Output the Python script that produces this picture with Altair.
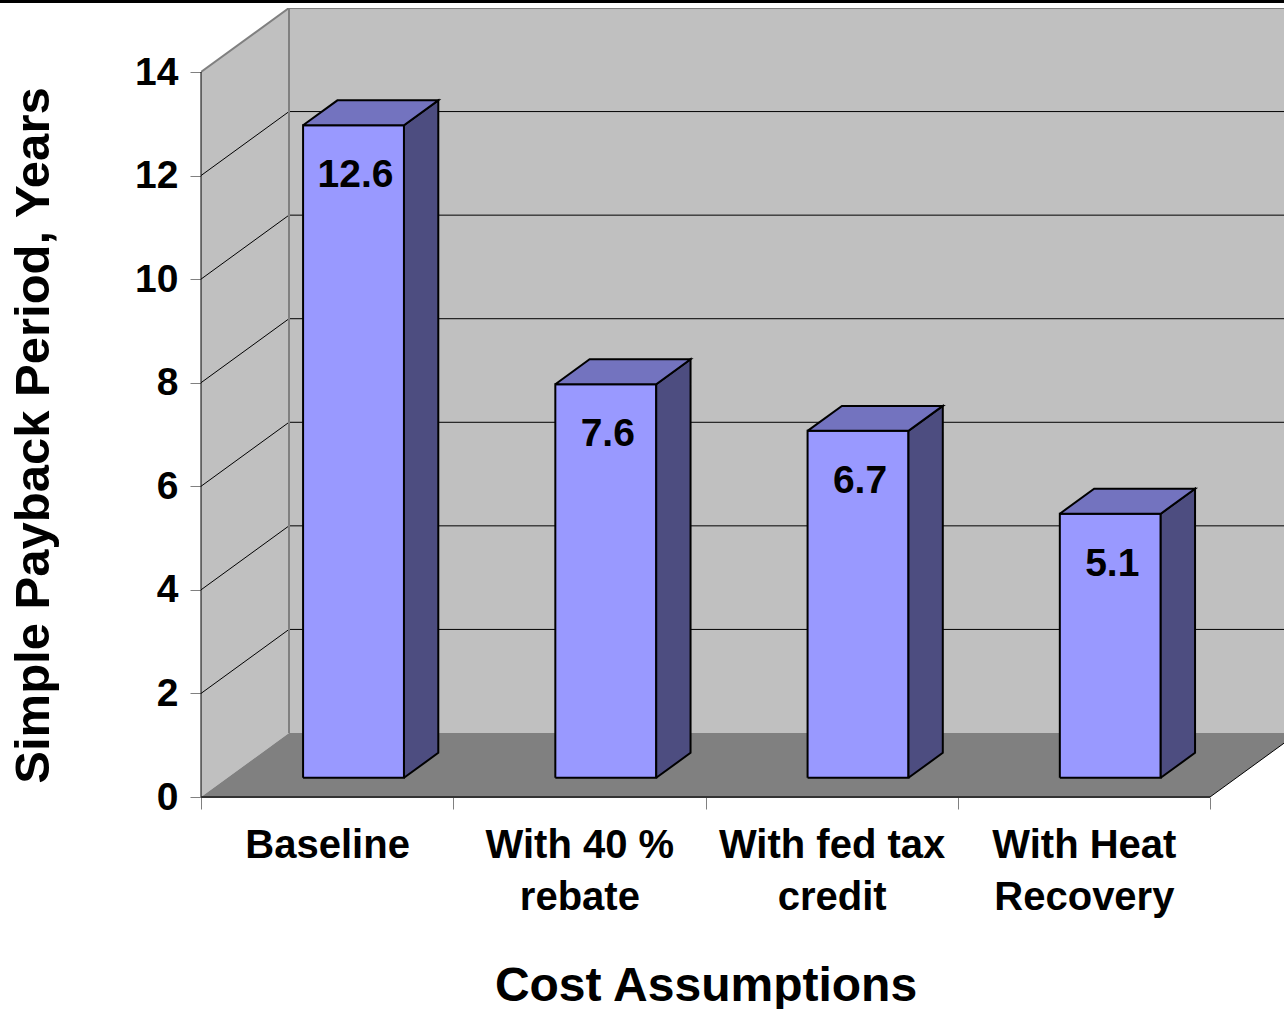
import altair as alt
import pandas as pd

# ---------------- data ----------------
categories = ["Baseline", "With 40 % rebate", "With fed tax credit", "With Heat Recovery"]
category_lines = [["Baseline"], ["With 40 %", "rebate"], ["With fed tax", "credit"], ["With Heat", "Recovery"]]
values = [12.6, 7.6, 6.7, 5.1]
y_ticks = [0, 2, 4, 6, 8, 10, 12, 14]

# ---------------- geometry (styles / layout) ----------------
FONT = "Liberation Sans"
PX_U = 252.25            # px per category unit
PX_V = 725 / 14          # px per year
W, H = 1083, 789         # plot area
U_MAX = W / PX_U
V_MAX = H / PX_V
DX = 88 / PX_U           # depth offset (category units) at full depth
DY = 64 / PX_V           # depth offset (years) at full depth
Z0, Z1 = 0.30, 0.69      # bar depth range
BL, BR = 0.30, 0.70      # bar left/right inside band
N = len(categories)
V_TOP = y_ticks[-1]


def pt(u, v, z):
    return u + z * DX, v + z * DY


def rows_from(polys, close=True):
    rows = []
    for pid, verts in enumerate(polys):
        vs = list(verts) + ([verts[0]] if close else [])
        for k, (u, v, z) in enumerate(vs):
            x, y = pt(u, v, z)
            rows.append({"pid": pid, "k": k, "u": x, "v": y})
    return pd.DataFrame(rows)


xs = alt.Scale(domain=[0, U_MAX], nice=False, zero=False)
ys = alt.Scale(domain=[0, V_MAX], nice=False, zero=False)

label_expr = "".join(
    "datum.value == %s ? [%s] : " % (i + 0.5, ",".join("'%s'" % s for s in lines))
    for i, lines in enumerate(category_lines)
) + "''"

x_axis = alt.Axis(
    values=[i * 0.5 for i in range(2 * N + 1)],
    tickSize=12, tickColor="#808080", tickWidth=1,
    tickOpacity={"condition": {"test": "datum.value % 1 != 0", "value": 0}, "value": 1},
    labelExpr=label_expr, labelFont=FONT, labelFontSize=40, labelFontWeight="bold",
    labelColor="black", labelPadding=16, labelLineHeight=52, labelOverlap=False,
    labelFlush=False, labelBound=False, labelLimit=1000, domain=False, grid=False,
    title="Cost Assumptions", titleFont=FONT, titleFontSize=48, titleFontWeight="bold",
    titleColor="black", titleX=504.5, titleY=203, titleAlign="center",
    titleBaseline="alphabetic", titleAnchor="start", titleLimit=2000,
)
y_axis = alt.Axis(
    values=y_ticks, tickSize=11, tickColor="#808080", tickWidth=1,
    labelFont=FONT, labelFontSize=39, labelFontWeight="bold", labelColor="black",
    labelPadding=12, domain=False, grid=False,
    title="Simple Payback Period, Years", titleFont=FONT, titleFontSize=49,
    titleFontWeight="bold", titleColor="black", titleAngle=270, titleX=-153,
    titleY=427, titleAlign="center", titleBaseline="alphabetic", titleAnchor="start",
    titleLimit=2000,
)

XE = alt.X("u:Q", scale=xs, axis=x_axis)
YE = alt.Y("v:Q", scale=ys, axis=y_axis)


def enc(chart):
    return chart.encode(x=XE, y=YE, detail="pid:N", order=alt.Order("k:Q"))


def poly(polys, fill, stroke="black", sw=0.0, clip=False, close=True):
    kw = dict(strokeJoin="miter", clip=clip, interpolate="linear")
    if fill is not None:
        kw["fill"] = fill
    if sw > 0:
        kw.update(stroke=stroke, strokeWidth=sw)
    else:
        kw.update(strokeOpacity=0)
    return enc(alt.Chart(rows_from(polys, close)).mark_line(**kw))


# walls and floor
back_wall = poly([[(0, 0, 1), (N, 0, 1), (N, V_TOP, 1), (0, V_TOP, 1)]], "#C0C0C0", clip=True)
left_wall = poly([[(0, 0, 0), (0, 0, 1), (0, V_TOP, 1), (0, V_TOP, 0)]], "#C0C0C0")
floor = poly([[(0, 0, 0), (N, 0, 0), (N, 0, 1), (0, 0, 1)]], "#808080", clip=True)

grid = poly([[(0, v, 0), (0, v, 1), (N, v, 1)] for v in y_ticks[1:-1]],
            None, "black", 1, clip=True, close=False)
edges = poly([[(0, V_TOP, 0), (0, V_TOP, 1), (N, V_TOP, 1)], [(0, 0, 1), (0, V_TOP, 1)]],
             None, "#808080", 2, clip=True, close=False)

# bars
fronts, sides, tops = [], [], []
for i, val in enumerate(values):
    l, r = i + BL, i + BR
    fronts.append([(l, 0, Z0), (r, 0, Z0), (r, val, Z0), (l, val, Z0)])
    sides.append([(r, 0, Z0), (r, 0, Z1), (r, val, Z1), (r, val, Z0)])
    tops.append([(l, val, Z0), (r, val, Z0), (r, val, Z1), (l, val, Z1)])
bar_front = poly(fronts, "#9999FF", "black", 2)
bar_side = poly(sides, "#4D4D80", "black", 2)
bar_top = poly(tops, "#7373BF", "black", 2)

# value labels
lab_df = pd.DataFrame({
    "u": [pt(i + 0.5, val, Z0)[0] for i, val in enumerate(values)],
    "v": [pt(i + 0.5, val, Z0)[1] for i, val in enumerate(values)],
    "t": ["%.1f" % val for val in values],
})
labels = alt.Chart(lab_df).mark_text(
    font=FONT, fontSize=39, fontWeight="bold", color="black",
    baseline="alphabetic", align="center", dy=62, dx=2,
).encode(x=XE, y=YE, text="t:N")

# front axis lines
y_line = poly([[(0, 0, 0), (0, V_TOP, 0)]], None, "black", 1, close=False)
x_line = poly([[(0, 0, 0), (N, 0, 0)]], None, "#333333", 2, close=False)
right_edge = poly([[(N, 0, 0), (N, 0, 1)]], None, "black", 1, clip=True, close=False)

# top border
border_df = pd.DataFrame({"u": [-201 / PX_U], "u2": [U_MAX], "v": [V_MAX + 6.5 / PX_V]})
border = alt.Chart(border_df).mark_rule(color="black", strokeWidth=3).encode(
    x=XE, x2="u2:Q", y=YE
)

chart = alt.layer(
    back_wall, left_wall, floor, grid, edges,
    bar_front, bar_side, bar_top, labels,
    y_line, x_line, right_edge, border,
).properties(
    width=W, height=H,
    autosize=alt.AutoSizeParams(type="none"),
    padding={"left": 201, "top": 8, "right": 0, "bottom": 212},
    background="white",
).configure_view(stroke=None)

chart.save("out.html", embed_options={"renderer": "svg", "actions": False})
